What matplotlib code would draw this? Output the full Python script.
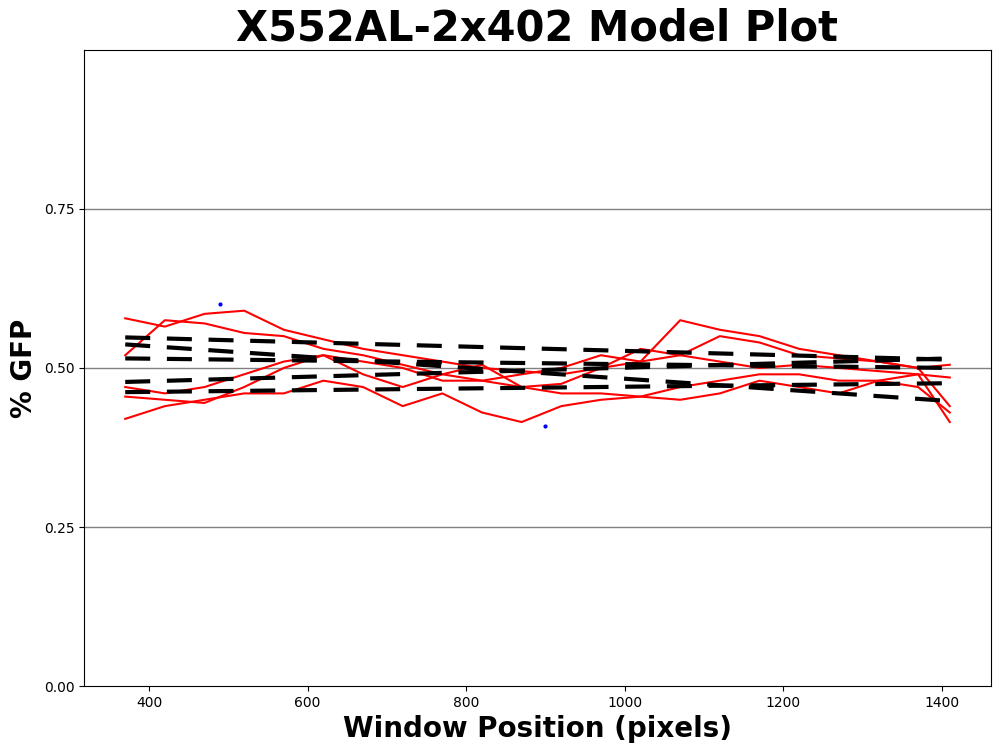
import numpy as np
import matplotlib
matplotlib.use('Agg')
import matplotlib.pyplot as plt

x = [370, 420, 470, 520, 570, 620, 670, 720, 770, 820, 870, 920, 970, 1020,
     1070, 1120, 1170, 1220, 1270, 1320, 1370, 1410]
curves = [
    [0.578, 0.565, 0.585, 0.590, 0.560, 0.545, 0.530, 0.520, 0.510, 0.500, 0.495,
     0.490, 0.500, 0.510, 0.520, 0.510, 0.500, 0.505, 0.500, 0.495, 0.490, 0.485],
    [0.520, 0.575, 0.570, 0.555, 0.550, 0.530, 0.520, 0.505, 0.490, 0.480, 0.470,
     0.475, 0.500, 0.530, 0.520, 0.550, 0.540, 0.520, 0.515, 0.510, 0.500, 0.505],
    [0.470, 0.460, 0.470, 0.490, 0.510, 0.520, 0.510, 0.500, 0.480, 0.480, 0.490,
     0.500, 0.520, 0.510, 0.575, 0.560, 0.550, 0.530, 0.520, 0.510, 0.500, 0.440],
    [0.455, 0.450, 0.445, 0.470, 0.500, 0.520, 0.490, 0.470, 0.490, 0.505, 0.470,
     0.460, 0.460, 0.455, 0.450, 0.460, 0.480, 0.470, 0.460, 0.480, 0.470, 0.430],
    [0.420, 0.440, 0.450, 0.460, 0.460, 0.480, 0.470, 0.440, 0.460, 0.430, 0.415,
     0.440, 0.450, 0.455, 0.470, 0.480, 0.490, 0.490, 0.480, 0.480, 0.490, 0.415],
]
max_pt = (490, 0.600)
min_pt = (900, 0.409)
fit_x = [370, 1410]
fits = [
    [0.548, 0.513],
    [0.537, 0.448],
    [0.515, 0.500],
    [0.478, 0.515],
    [0.462, 0.476],
]

fig, ax = plt.subplots(figsize=(10, 7.54), dpi=100)
for y in [0.25, 0.5, 0.75]:
    ax.axhline(y, color='gray', lw=1, zorder=0)
for c in curves:
    ax.plot(x, c, color='red', lw=1.5)
ax.plot(*max_pt, 'b.', ms=4)
ax.plot(*min_pt, 'b.', ms=4)
for f in fits:
    ax.plot(fit_x, f, 'k--', lw=3, dashes=(6, 4))

ax.set_xlim(318, 1462)
ax.set_ylim(0, 1)
ax.set_yticks([0, 0.25, 0.5, 0.75])
ax.set_yticklabels(['0.00', '0.25', '0.50', '0.75'])
ax.set_title('X552AL-2x402 Model Plot', fontsize=30, fontweight='bold')
ax.set_xlabel('Window Position (pixels)', fontsize=20, fontweight='bold')
ax.set_ylabel('% GFP', fontsize=20, fontweight='bold')
plt.subplots_adjust(left=0.084, right=0.991, top=0.934, bottom=0.09)
plt.savefig('out.png')
